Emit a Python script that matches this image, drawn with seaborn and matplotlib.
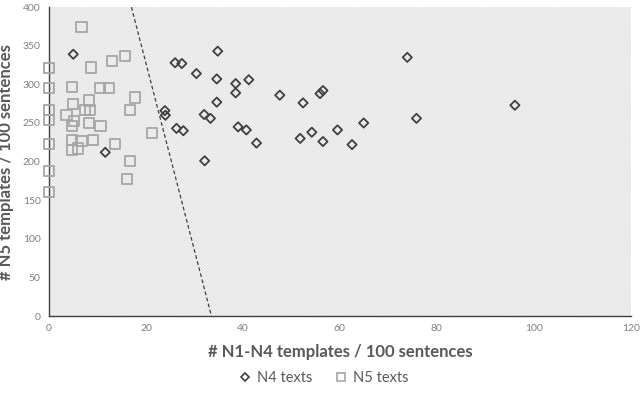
import numpy as np
import pandas as pd
import matplotlib
matplotlib.use('Agg')
import matplotlib.pyplot as plt
import seaborn as sns
from matplotlib.patches import Rectangle

# N4 texts (diamonds)
n4_x = [5.0, 11.6, 26.0, 27.4, 30.4, 34.6, 34.8, 23.9, 24.0, 26.3, 27.7, 32.1,
        32.0, 33.3, 34.6, 38.5, 38.5, 41.2, 39.0, 40.7, 42.8, 47.6, 52.4, 51.8,
        54.2, 55.9, 56.5, 56.5, 59.5, 62.5, 64.9, 73.9, 75.8, 96.1]
n4_y = [339, 212, 328, 327, 314, 307, 343, 266, 260, 243, 240, 201,
        261, 256, 277, 301, 289, 306, 245, 241, 224, 286, 276, 230,
        238, 288, 292, 226, 241, 222, 250, 335, 256, 273]

# N5 texts (squares)
n5_x = [0, 0, 0, 0, 0, 0, 0, 6.7, 4.7, 5.0, 3.6, 4.7, 5.1, 4.7, 4.8, 6.0, 6.7,
        8.7, 8.3, 7.4, 8.5, 8.3, 9.0, 10.5, 12.4, 10.6, 13.0, 15.7, 17.7, 16.7,
        13.6, 16.7, 16.1, 21.2]
n5_y = [321, 295, 267, 254, 223, 188, 161, 374, 297, 275, 260, 246, 253, 228,
        215, 217, 227, 322, 279, 267, 267, 250, 228, 295, 295, 246, 330, 337,
        283, 267, 223, 201, 177, 237]

# dividing line
line_x = [17.0, 33.5]
line_y = [400, 0]

x_ticks = [0, 20, 40, 60, 80, 100, 120]
y_ticks = [0, 50, 100, 150, 200, 250, 300, 350, 400]

sns.set_style('white')
plt.rcParams['font.family'] = ['Lato', 'DejaVu Sans']
plt.rcParams['hatch.linewidth'] = 0.5

fig = plt.figure(figsize=(6.4, 3.98), dpi=100)
ax = fig.add_axes([0.0766, 0.206, 0.909, 0.776])

# hatched plot area (fine diagonal texture)
ax.add_patch(Rectangle((0, 0), 1, 1, transform=ax.transAxes, facecolor='#f7f7f7',
                       edgecolor='#d6d6d6', linewidth=0, hatch='\\' * 12, zorder=0))

ax.plot(line_x, line_y, linestyle=(0, (3, 2)), color='#404040', linewidth=0.9, zorder=2)

df4 = pd.DataFrame({'x': n4_x, 'y': n4_y})
df5 = pd.DataFrame({'x': n5_x, 'y': n5_y})
sns.scatterplot(data=df4, x='x', y='y', marker='D', s=22, facecolor='none',
                edgecolor='#404040', linewidth=1.3, ax=ax, zorder=3, clip_on=False)
sns.scatterplot(data=df5, x='x', y='y', marker='s', s=55, facecolor='none',
                edgecolor='#a6a6a6', linewidth=1.3, ax=ax, zorder=3, clip_on=False)

ax.set_xlim(0, 120)
ax.set_ylim(0, 400)
ax.set_xticks(x_ticks)
ax.set_yticks(y_ticks)
ax.tick_params(axis='both', labelsize=7.5, colors='#7f7f7f', length=0, pad=6)

for side in ['top', 'right']:
    ax.spines[side].set_visible(False)
for side in ['left', 'bottom']:
    ax.spines[side].set_color('#404040')
    ax.spines[side].set_linewidth(1.0)

ax.set_xlabel('# N1-N4 templates / 100 sentences', fontsize=12, fontweight='bold',
              color='#595959', labelpad=8)
ax.set_ylabel('# N5 templates / 100 sentences', fontsize=12, fontweight='bold',
              color='#595959', labelpad=6)

h4 = plt.Line2D([], [], marker='D', linestyle='none', markersize=4.5,
                markerfacecolor='none', markeredgecolor='#404040', markeredgewidth=1.2)
h5 = plt.Line2D([], [], marker='s', linestyle='none', markersize=6,
                markerfacecolor='none', markeredgecolor='#a6a6a6', markeredgewidth=1.2)
leg = fig.legend([h4, h5], ['N4 texts', 'N5 texts'], loc='center', ncol=2,
                 bbox_to_anchor=(0.505, 0.05), frameon=False, fontsize=10.5,
                 handletextpad=0.3, columnspacing=1.5, handlelength=1)
for t in leg.get_texts():
    t.set_color('#595959')

plt.savefig('out.png', dpi=100)
plt.close()
